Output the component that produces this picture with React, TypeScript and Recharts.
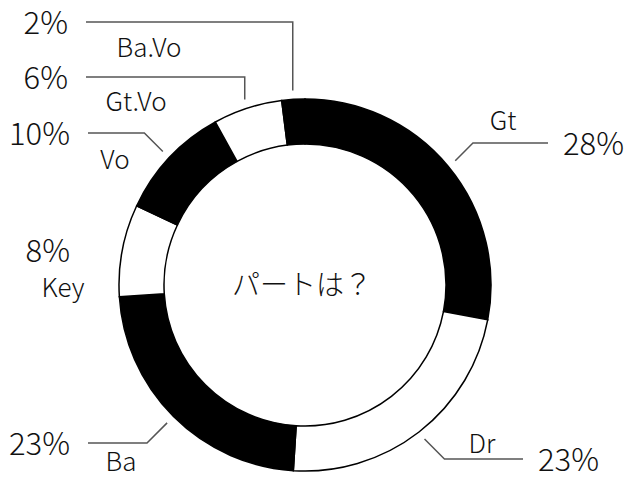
import React from 'react';
import { PieChart, Pie, Cell } from 'recharts';

const parts = ['Gt', 'Dr', 'Ba', 'Key', 'Vo', 'Gt.Vo', 'Ba.Vo'];
const shares = [28, 23, 23, 8, 10, 6, 2];
const fills = ['#000', '#fff', '#000', '#fff', '#000', '#fff', '#000'];

const data = parts.map((name, i) => ({ name, value: shares[i] }));

const FONT = "'Noto Sans CJK JP', 'Noto Sans', sans-serif";

// label layout, relative to the pie centre
type LabelLayout = {
  lineY: number;
  endX: number;
  elbow: 'diag' | 'vert' | 'none';
  nameDx: number;
  nameDy: number;
};

const labelLayout: LabelLayout[] = [
  { lineY: -142, endX: 243, elbow: 'diag', nameDx: -45, nameDy: -13 },
  { lineY: 174, endX: 218, elbow: 'diag', nameDx: -41, nameDy: -6 },
  { lineY: 158, endX: -217, elbow: 'diag', nameDx: 33, nameDy: 28 },
  { lineY: -35, endX: -217, elbow: 'none', nameDx: -25, nameDy: 47 },
  { lineY: -152, endX: -217, elbow: 'diag', nameDx: 27, nameDy: 36 },
  { lineY: -208, endX: -219, elbow: 'vert', nameDx: 50, nameDy: 34 },
  { lineY: -263, endX: -219, elbow: 'vert', nameDx: 63, nameDy: 35 },
];

const RAD = Math.PI / 180;

const renderLabel = (props: any) => {
  const { cx, cy, midAngle, outerRadius, index, name, value } = props;
  const lay = labelLayout[index];
  const r = outerRadius + 9;
  const ax = cx + r * Math.cos(-midAngle * RAD);
  const ay = cy + r * Math.sin(-midAngle * RAD);
  const ly = cy + lay.lineY;
  const ex = cx + lay.endX;
  const right = lay.endX > 0;
  let elbowX = ax;
  if (lay.elbow === 'diag') elbowX = ax + (right ? 1 : -1) * Math.abs(ly - ay);
  const pctX = right ? ex + 15 : ex - 18;
  return (
    <g>
      {lay.elbow !== 'none' && (
        <polyline
          points={`${ax},${ay} ${elbowX},${ly} ${ex},${ly}`}
          fill="none"
          stroke="#555"
          strokeWidth={1.5}
        />
      )}
      <text
        x={pctX}
        y={ly + 12}
        textAnchor={right ? 'start' : 'end'}
        fontFamily={FONT}
        fontWeight={300}
        fontSize={31}
        fill="#111"
      >
        {`${value}%`}
      </text>
      <text
        x={ex + lay.nameDx}
        y={ly + lay.nameDy}
        textAnchor="middle"
        fontFamily={FONT}
        fontWeight={300}
        fontSize={26}
        fill="#111"
      >
        {name}
      </text>
    </g>
  );
};

export default function App() {
  return (
    <div style={{ position: 'absolute', left: 0, top: 0, width: 632, height: 477, background: '#fff' }}>
      <PieChart width={632} height={477} margin={{ top: 0, right: 0, bottom: 0, left: 0 }}>
        <Pie
          data={data}
          dataKey="value"
          nameKey="name"
          cx={305}
          cy={285}
          innerRadius={141}
          outerRadius={186}
          startAngle={90}
          endAngle={-270}
          stroke="#000"
          strokeWidth={1.5}
          label={renderLabel}
          labelLine={false}
          isAnimationActive={false}
        >
          {data.map((d, i) => (
            <Cell key={d.name} fill={fills[i]} />
          ))}
        </Pie>
        <text
          x={302}
          y={295}
          textAnchor="middle"
          fontFamily={FONT}
          fontWeight={300}
          fontSize={28}
          fill="#111"
        >
          パートは？
        </text>
      </PieChart>
    </div>
  );
}
